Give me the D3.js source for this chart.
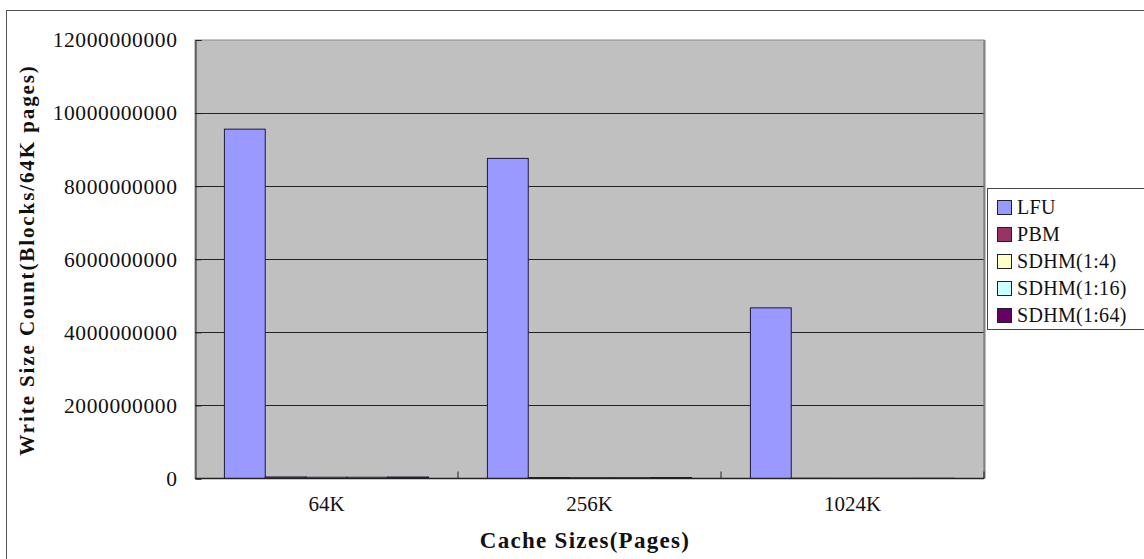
<!DOCTYPE html>
<html>
<head>
<meta charset="utf-8">
<script src="https://cdn.jsdelivr.net/npm/d3@7"></script>
<style>
  html, body { margin: 0; padding: 0; background: #fff; }
  svg { display: block; }
  text { font-family: "Liberation Serif", "DejaVu Serif", serif; fill: #111; }
</style>
</head>
<body>
<script>
// Cache sizes on the x axis, one group of bars per size
const categories = ["64K", "256K", "1024K"];
const seriesNames = ["LFU", "PBM", "SDHM(1:4)", "SDHM(1:16)", "SDHM(1:64)"];
const seriesColors = ["#9999FF", "#993366", "#FFFFCC", "#CCFFFF", "#660066"];
// Write size counts, one array per series, ordered as the categories
const lfu      = [9560000000, 8760000000, 4670000000];
const pbm      = [42000000, 26000000, 6000000];
const sdhm4    = [34000000, 22000000, 5000000];
const sdhm16   = [34000000, 22000000, 5000000];
const sdhm64   = [40000000, 26000000, 6000000];
const yTicks   = [0, 2000000000, 4000000000, 6000000000, 8000000000, 10000000000, 12000000000];

const seriesValues = [lfu, pbm, sdhm4, sdhm16, sdhm64];
const W = 1144, H = 559;
const plot = { left: 195, top: 40, right: 984, bottom: 478.5 };

const svg = d3.select("body").append("svg").attr("width", W).attr("height", H);

// outer chart frame
svg.append("rect").attr("x", 6.5).attr("y", 10.5).attr("width", W).attr("height", H)
  .attr("fill", "#fff").attr("stroke", "#555").attr("stroke-width", 1);

const y = d3.scaleLinear().domain([0, 12000000000]).range([plot.bottom, plot.top]);
const x0 = d3.scaleBand().domain(categories).range([plot.left, plot.right]).padding(0);
const x1 = d3.scaleBand().domain(seriesNames).range([0, x0.bandwidth()])
  .paddingInner(0).paddingOuter(0.72);
const color = d3.scaleOrdinal().domain(seriesNames).range(seriesColors);

// plot area background
svg.append("rect").attr("x", plot.left).attr("y", plot.top)
  .attr("width", plot.right - plot.left).attr("height", plot.bottom - plot.top)
  .attr("fill", "#C0C0C0").attr("stroke", "#8a8a8a").attr("stroke-width", 1);

// horizontal gridlines
svg.append("g").selectAll("line").data(yTicks.filter(t => t > 0 && t < 12000000000)).join("line")
  .attr("x1", plot.left).attr("x2", plot.right)
  .attr("y1", d => Math.round(y(d)) + 0.5).attr("y2", d => Math.round(y(d)) + 0.5)
  .attr("stroke", "#222").attr("stroke-width", 1);

// right edge of plot area
svg.append("line").attr("x1", plot.right + 0.5).attr("x2", plot.right + 0.5)
  .attr("y1", plot.top).attr("y2", plot.bottom).attr("stroke", "#808080").attr("stroke-width", 2);

// bars
const rows = categories.map((c, i) => ({ cat: c, vals: seriesNames.map((s, j) => ({ s, v: seriesValues[j][i] })) }));
svg.append("g").selectAll("g").data(rows).join("g")
  .attr("transform", d => `translate(${x0(d.cat)},0)`)
  .selectAll("rect").data(d => d.vals).join("rect")
  .attr("x", d => x1(d.s))
  .attr("y", d => y(d.v))
  .attr("width", x1.bandwidth())
  .attr("height", d => y(0) - y(d.v))
  .attr("fill", d => color(d.s))
  .attr("stroke", "#1a1a3a").attr("stroke-width", 1);

// y axis with inward ticks
const yAxis = d3.axisLeft(y).tickValues(yTicks).tickSize(-6).tickPadding(18).tickFormat(d3.format("d"));
const gy = svg.append("g").attr("transform", `translate(${plot.left + 0.5},0)`).call(yAxis);
gy.select(".domain").attr("stroke", "#222");
gy.selectAll(".tick line").attr("stroke", "#222");
gy.selectAll("text").attr("font-size", 21.5).attr("letter-spacing", 0.6)
  .attr("font-family", "Liberation Serif, serif").attr("fill", "#222");

// x axis with inward ticks at group boundaries
const gx = svg.append("g").attr("transform", `translate(0,${plot.bottom})`);
gx.append("line").attr("x1", plot.left).attr("x2", plot.right).attr("y1", 0).attr("y2", 0)
  .attr("stroke", "#222").attr("stroke-width", 1.5);
gx.selectAll("line.tk").data(categories.slice(1).concat(["end"])).join("line").attr("class", "tk")
  .attr("x1", d => d === "end" ? plot.right : x0(d)).attr("x2", d => d === "end" ? plot.right : x0(d))
  .attr("y1", 0).attr("y2", -7).attr("stroke", "#222");
gx.selectAll("text").data(categories).join("text")
  .attr("x", d => x0(d) + x0.bandwidth() / 2).attr("y", 32)
  .attr("text-anchor", "middle").attr("font-size", 21).attr("fill", "#222")
  .text(d => d);

// axis titles
svg.append("text").attr("x", 585).attr("y", 548).attr("text-anchor", "middle")
  .attr("font-size", 23).attr("font-weight", "bold").attr("letter-spacing", 1.3)
  .text("Cache Sizes(Pages)");
svg.append("text").attr("transform", "translate(34,260) rotate(-90)").attr("text-anchor", "middle")
  .attr("font-size", 21).attr("font-weight", "bold").attr("letter-spacing", 1.9)
  .text("Write Size Count(Blocks/64K pages)");

// legend
const lg = svg.append("g");
lg.append("rect").attr("x", 987.5).attr("y", 188.5).attr("width", 160).attr("height", 141)
  .attr("fill", "#fff").attr("stroke", "#444").attr("stroke-width", 1);
const items = lg.selectAll("g.item").data(seriesNames).join("g").attr("class", "item")
  .attr("transform", (d, i) => `translate(997,${207 + i * 27})`);
items.append("rect").attr("x", 0.5).attr("y", -6.5).attr("width", 14).attr("height", 14)
  .attr("fill", d => color(d)).attr("stroke", "#222").attr("stroke-width", 1);
items.append("text").attr("x", 20).attr("y", 7).attr("font-size", 20).attr("fill", "#222")
  .attr("letter-spacing", 0.3)
  .text(d => d);
</script>
</body>
</html>
